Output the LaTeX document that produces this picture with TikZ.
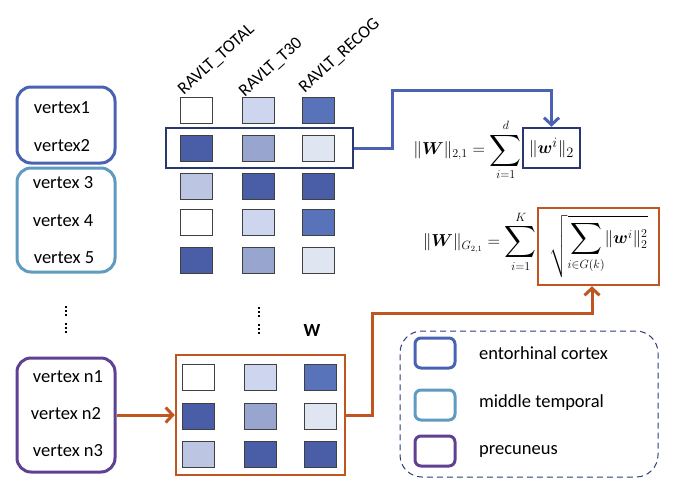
\documentclass[tikz,border=0pt]{standalone}
\usepackage{amsmath,bm,graphicx}
\usepackage[no-math]{fontspec}
\setmainfont{Carlito}
\usetikzlibrary{arrows.meta}

% region colours
\definecolor{entc}{RGB}{74,98,178}
\definecolor{midt}{RGB}{95,154,192}
\definecolor{prec}{RGB}{96,64,144}
\definecolor{navy}{RGB}{42,56,112}
\definecolor{rust}{RGB}{192,86,31}
\definecolor{legd}{RGB}{46,61,122}
% cell shades
\definecolor{c1}{RGB}{205,214,238}
\definecolor{c2}{RGB}{88,115,185}
\definecolor{c3}{RGB}{74,94,168}
\definecolor{c4}{RGB}{152,165,207}
\definecolor{c5}{RGB}{224,229,242}
\definecolor{c6}{RGB}{188,198,227}

\newcommand{\bigsum}{\mathop{\vcenter{\hbox{\scalebox{1.28}{$\displaystyle\sum$}}}}\limits}

\tikzset{
  txt/.style={font=\fontsize{18.5}{22}\selectfont, inner sep=0pt},
  mth/.style={font=\fontsize{17}{21}\selectfont},
  region/.style={draw, line width=3pt, rounded corners=14pt, minimum width=98pt},
  cell/.style={draw=black!75, line width=0.8pt, minimum width=32pt, minimum height=26pt, inner sep=0pt},
  swatch/.style={draw, line width=3pt, rounded corners=6pt, minimum width=40pt, minimum height=30pt},
  collabel/.style={font=\fontsize{17.5}{20}\selectfont, anchor=south west, inner sep=0pt},
  conn/.style={line width=3pt, -{Straight Barb[length=7pt,width=15pt]}},
  dotc/.style={fill=black, inner sep=0pt, minimum size=2.2pt, shape=rectangle},
}

\begin{document}
\begin{tikzpicture}[x=1pt,y=1pt]
\useasboundingbox (0,-482) rectangle (678,0);

% vertex groups
\node[region, draw=entc, minimum height=76pt] (g1) at (66,-125) {};
\node[region, draw=midt, minimum height=104pt] (g2) at (66,-220) {};
\node[region, draw=prec, minimum height=114pt] (g3) at (66,-415) {};

\node[txt] (v1) at (62,-108) {vertex1};
\node[txt] (v2) at (62,-146) {vertex2};
\node[txt] (v3) at (63,-183) {vertex 3};
\node[txt] (v4) at (63,-221) {vertex 4};
\node[txt] (v5) at (64,-258) {vertex 5};
\node[txt] (n1) at (68,-377) {vertex n1};
\node[txt] (n2) at (66,-414) {vertex n2};
\node[txt] (n3) at (68,-451) {vertex n3};

% vertical dots
\foreach \y [count=\k] in {307,311,315,324,328,332}{
  \node[dotc] (dl\k) at (66,-\y) {};
  \node[dotc] (dm\k) at (259,-\y-1) {};
}

% column labels, slanted
\node[collabel] (h1) at (176,-97) {\rotatebox{42}{RAVLT\_TOTAL}};
\node[collabel] (h2) at (237,-99) {\rotatebox{42}{RAVLT\_T30}};
\node[collabel] (h3) at (297,-95) {\rotatebox{42}{RAVLT\_RECOG}};

% upper matrix
\foreach \r/\y/\ca/\cb/\cc in {1/110/white/c1/c2, 2/148/c3/c4/c5, 3/186/c6/c3/c3, 4/222/white/c1/c2, 5/260/c3/c4/c5}{
  \node[cell, fill=\ca] (a\r1) at (196,-\y) {};
  \node[cell, fill=\cb] (a\r2) at (258,-\y) {};
  \node[cell, fill=\cc] (a\r3) at (318,-\y) {};
}
\node[draw=navy, line width=2.5pt, minimum width=187pt, minimum height=40pt, inner sep=0pt] (hl) at (259.5,-148) {};

% lower matrix W
\node[font=\fontsize{18.5}{22}\selectfont\bfseries, inner sep=0pt] (wlab) at (312,-330) {W};
\node[draw=rust, line width=2.5pt, minimum width=169pt, minimum height=120pt, inner sep=0pt] (wbox) at (260.5,-415) {};
\foreach \r/\y/\ca/\cb/\cc in {1/377/white/c1/c2, 2/416/c3/c4/c5, 3/454/c6/c3/c3}{
  \node[cell, fill=\ca] (b\r1) at (198,-\y) {};
  \node[cell, fill=\cb] (b\r2) at (260,-\y) {};
  \node[cell, fill=\cc] (b\r3) at (320,-\y) {};
}

% norms
\node[font=\fontsize{19}{23}\selectfont, draw=navy, line width=2.5pt, minimum width=57pt, minimum height=40pt, inner sep=0pt]
  (f1box) at (551.5,-148) {$\lVert\bm{w}^{i}\rVert_{2}$};
\node[mth, anchor=east, inner sep=1pt] (f1lhs) at (523,-150)
  {$\lVert\bm{W}\rVert_{2,1} = \bigsum_{i=1}^{d}$};

\node[mth, draw=rust, line width=2.5pt, minimum width=121pt, minimum height=77pt, inner sep=0pt]
  (f2box) at (598.5,-246.5)
  {$\sqrt{\bigsum_{i\in G(k)}\lVert\bm{w}^{i}\rVert_{2}^{2}}$};
\node[mth, anchor=east, inner sep=1pt] (f2lhs) at (538,-242)
  {$\lVert\bm{W}\rVert_{G_{2,1}} = \bigsum_{i=1}^{K}$};

% connectors
\coordinate (bturn) at (392,-90);
\draw[conn, entc] (hl.east) -| (bturn) -| (f1box.north);

\coordinate (oturn1) at (372,-313);
\coordinate (oturn2) at (592,-313);
\draw[conn, rust] (wbox.east) -| (oturn1) -- (oturn2) -- (oturn2 |- f2box.south);
\draw[conn, rust] (g3.east |- wbox.west) -- (wbox.west);

% legend
\node[draw=legd, dashed, dash pattern=on 6pt off 4pt, line width=1pt, rounded corners=22pt,
      minimum width=258pt, minimum height=146pt] (leg) at (529,-404) {};
\node[swatch, draw=entc] (s1) at (435,-353) {};
\node[swatch, draw=midt] (s2) at (435,-405) {};
\node[swatch, draw=prec] (s3) at (435,-451) {};
\node[txt, anchor=west] (l1) at (479,-353) {entorhinal cortex};
\node[txt, anchor=west] (l2) at (479,-403) {middle temporal};
\node[txt, anchor=west] (l3) at (479,-451) {precuneus};
\end{tikzpicture}
\end{document}
